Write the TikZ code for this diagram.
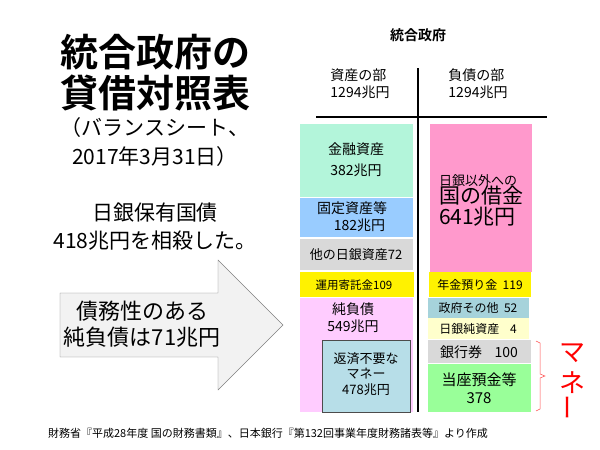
\documentclass[tikz,border=0pt]{standalone}
\usepackage{fontspec}
\setmainfont{Noto Sans CJK JP}
\newfontfamily\jpb{Noto Sans CJK JP Bold}
\newfontfamily\jp{Noto Sans CJK JP}
\begin{document}
\begin{tikzpicture}[x=1pt,y=-1pt,
  fs/.style={font=\jp\fontsize{#1}{1.2\dimexpr #1pt\relax}\selectfont,align=center,inner sep=0pt}]
\useasboundingbox (0,0) rectangle (600,450);
% title
\node[font=\jpb\fontsize{38}{42}\selectfont,inner sep=0pt] (t1) at (155,52) {統合政府の};
\node[font=\jpb\fontsize{38}{42}\selectfont,inner sep=0pt] (t2) at (155,93) {貸借対照表};
\node[fs=21] (t3) at (155,128) {（バランスシート、};
\node[fs=21] (t4) at (155,157) {2017年3月31日）};
\node[fs=21] (t5) at (155,213) {日銀保有国債};
\node[fs=21] (t6) at (155,241) {418兆円を相殺した。};
% arrow
\draw[gray,fill=black!5] (60,293) -- (218,293) -- (218,260) -- (283,325) -- (218,390) -- (218,357) -- (60,357) -- cycle;
\node[fs=22] (at) at (142,324) {債務性のある\\純負債は71兆円};
% header
\node[font=\jpb\fontsize{14}{16}\selectfont,inner sep=0pt] (h) at (418,35) {統合政府};
\node[fs=14,align=left] (ha) at (360,84) {資産の部\\1294兆円};
\node[fs=14,align=left] (hl) at (478,84) {負債の部\\1294兆円};
\draw[line width=2.2pt] (316,117) -- (547,117);
\draw[line width=2.2pt] (418,68) -- (418,412);
% left
\fill[fill={rgb,255:red,179;green,245;blue,218}] (300,124) rectangle (413,197);
\node[fs=14] (a1) at (356,160) {金融資産\\[4pt]382兆円};
\fill[fill={rgb,255:red,153;green,204;blue,255}] (300,198) rectangle (413,237);
\node[fs=14,align=left] (a2) at (352,217) {固定資産等\\\hspace{1.2em}182兆円};
\fill[fill=black!15] (300,239) rectangle (413,270);
\node[fs=13] (a3) at (356,255) {他の日銀資産72};
\fill[fill=yellow] (300,272) rectangle (414,297);
\node[fs=11.5] (a4) at (354,285) {運用寄託金109};
\fill[fill={rgb,255:red,255;green,204;blue,255}] (300,298) rectangle (413,412);
\node[fs=14] (a5) at (353,318) {純負債\\549兆円};
\draw[fill={rgb,255:red,183;green,222;blue,232},draw=black!70] (322,340) rectangle (410,412);
\node[fs=13] (a6) at (366,374) {返済不要な\\マネー\\478兆円};
% right
\fill[fill={rgb,255:red,255;green,153;blue,204}] (430,124) rectangle (532,272);
\node[fs=13,align=left] (b1) at (481,200) {日銀以外への\\[-1pt]{\fontsize{21}{25}\selectfont 国の借金}\\{\fontsize{21}{25}\selectfont 641兆円}};
\fill[fill=yellow] (429,272) rectangle (531,297);
\node[fs=12] (b2) at (480,285) {年金預り金\ \ 119};
\fill[fill={rgb,255:red,166;green,211;blue,219}] (428,298) rectangle (529,318);
\node[fs=12] (b3) at (478,308) {政府その他\ \ 52};
\fill[fill={rgb,255:red,255;green,255;blue,204}] (428,318) rectangle (529,339);
\node[fs=12] (b4) at (478,329) {日銀純資産\ \ \ \ 4};
\fill[fill=black!15] (428,340) rectangle (531,363);
\node[fs=14] (b5) at (479,352) {銀行券\ \ \ \ 100};
\fill[fill={rgb,255:red,153;green,255;blue,153}] (428,364) rectangle (531,412);
\node[fs=15] (b6) at (479,388) {当座預金等\\378};
% bracket
\draw[red!70,line width=0.5pt] (536,341) -- (540,343) -- (540,374) -- (545,376) -- (540,378) -- (540,409) -- (536,411);
\node[fs=26,text=red] (m) at (572,382) {マ\\ネ\\[-4pt]{\rotatebox{90}{ー}}};
% footer
\node[fs=11] (f) at (268,433) {財務省『平成28年度 国の財務書類』、日本銀行『第132回事業年度財務諸表等』より作成};
\end{tikzpicture}
\end{document}
